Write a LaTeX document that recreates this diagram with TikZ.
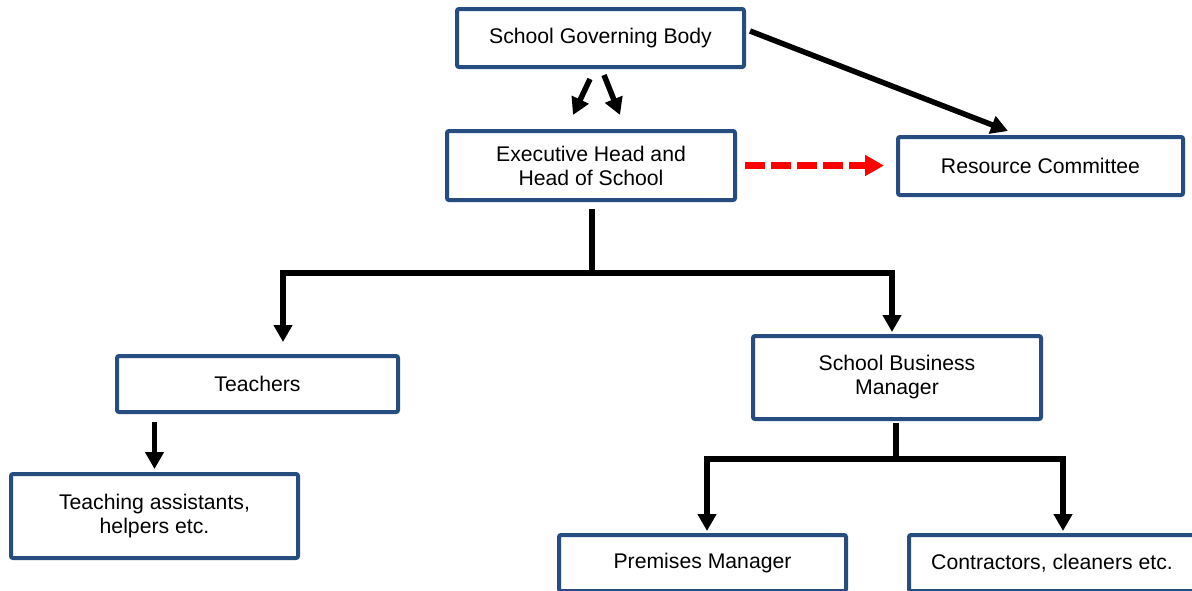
\documentclass[tikz,border=0pt]{standalone}
\usepackage{fontspec}
\setmainfont{Liberation Sans}
\usetikzlibrary{arrows.meta,calc}
\definecolor{boxblue}{RGB}{38,76,128}

\begin{document}
\begin{tikzpicture}[x=0.5pt,y=-0.5pt,
    box/.style={draw=boxblue, line width=2pt, rounded corners=1pt, fill=white,
        align=center, inner sep=0pt, font=\fontsize{10.6pt}{12pt}\selectfont},
    link/.style={line width=2.75pt},
    arr/.style={line width=2.75pt, -{Triangle[length=8.5pt,width=9pt]}},
    reddash/.style={red, line width=3.5pt, dash pattern=on 10pt off 3pt,
        -{Triangle[length=9.5pt,width=10pt]}}]

    \useasboundingbox (0,0) rectangle (1192,590);

    % Boxes
    \node[box, minimum width=143.5pt, minimum height=29pt] (sgb) at (600.5,38) {School Governing Body};
    \node[box, minimum width=144pt, minimum height=34.5pt] (exec) at (591,165.5) {Executive Head and\\Head of School};
    \node[box, minimum width=142.5pt, minimum height=29pt] (res) at (1040.5,166) {Resource Committee};
    \node[box, minimum width=140.5pt, minimum height=28pt] (teach) at (257.5,384) {Teachers};
    \node[box, minimum width=143.5pt, minimum height=42pt] (ta) at (154.5,516) {Teaching assistants,\\helpers etc.};
    \node[box, minimum width=144pt, minimum height=41.5pt] (sbm) at (897,377.5) {School Business\\Manager};
    \node[box, minimum width=143.5pt, minimum height=28pt] (prem) at (702.5,563) {Premises Manager};
    \node[box, minimum width=143pt, minimum height=28pt] (contr) at (1052,563) {Contractors, cleaners etc.};

    % Governing body
    \draw[arr] ($(sgb.south)+(-10.5,10)$) -- ($(exec.north)+(-18,-14)$);
    \draw[arr] ($(sgb.south)+(3.5,6)$) -- ($(exec.north)+(29,-14)$);
    \draw[arr] ($(sgb.east)+(4,-7)$) -- ($(res.north)+(-32.5,-4)$);
    \draw[reddash, shorten <=4pt, shorten >=6pt] (exec.east) -- (exec.east -| res.west);

    % Head of school
    \coordinate (fork1) at ($(exec.south)+(1,71)$);
    \draw[link] ($(exec.south)+(1,7)$) -- (fork1);
    \draw[arr] (fork1) -| ($(teach.north)+(25.5,-12)$);
    \draw[arr] (fork1) -| ($(sbm.north)+(-5,-2)$);
    \draw[arr] ($(ta.north |- teach.south)+(0,8)$) -- ($(ta.north)+(0,-3)$);

    % Business manager
    \coordinate (fork2) at ($(sbm.south)+(-1,38)$);
    \draw[link] ($(sbm.south)+(-1,2)$) -- (fork2);
    \draw[arr] (fork2) -| ($(prem.north)+(4.5,-2)$);
    \draw[arr] (fork2) -| ($(contr.north)+(11,-2)$);

\end{tikzpicture}
\end{document}
